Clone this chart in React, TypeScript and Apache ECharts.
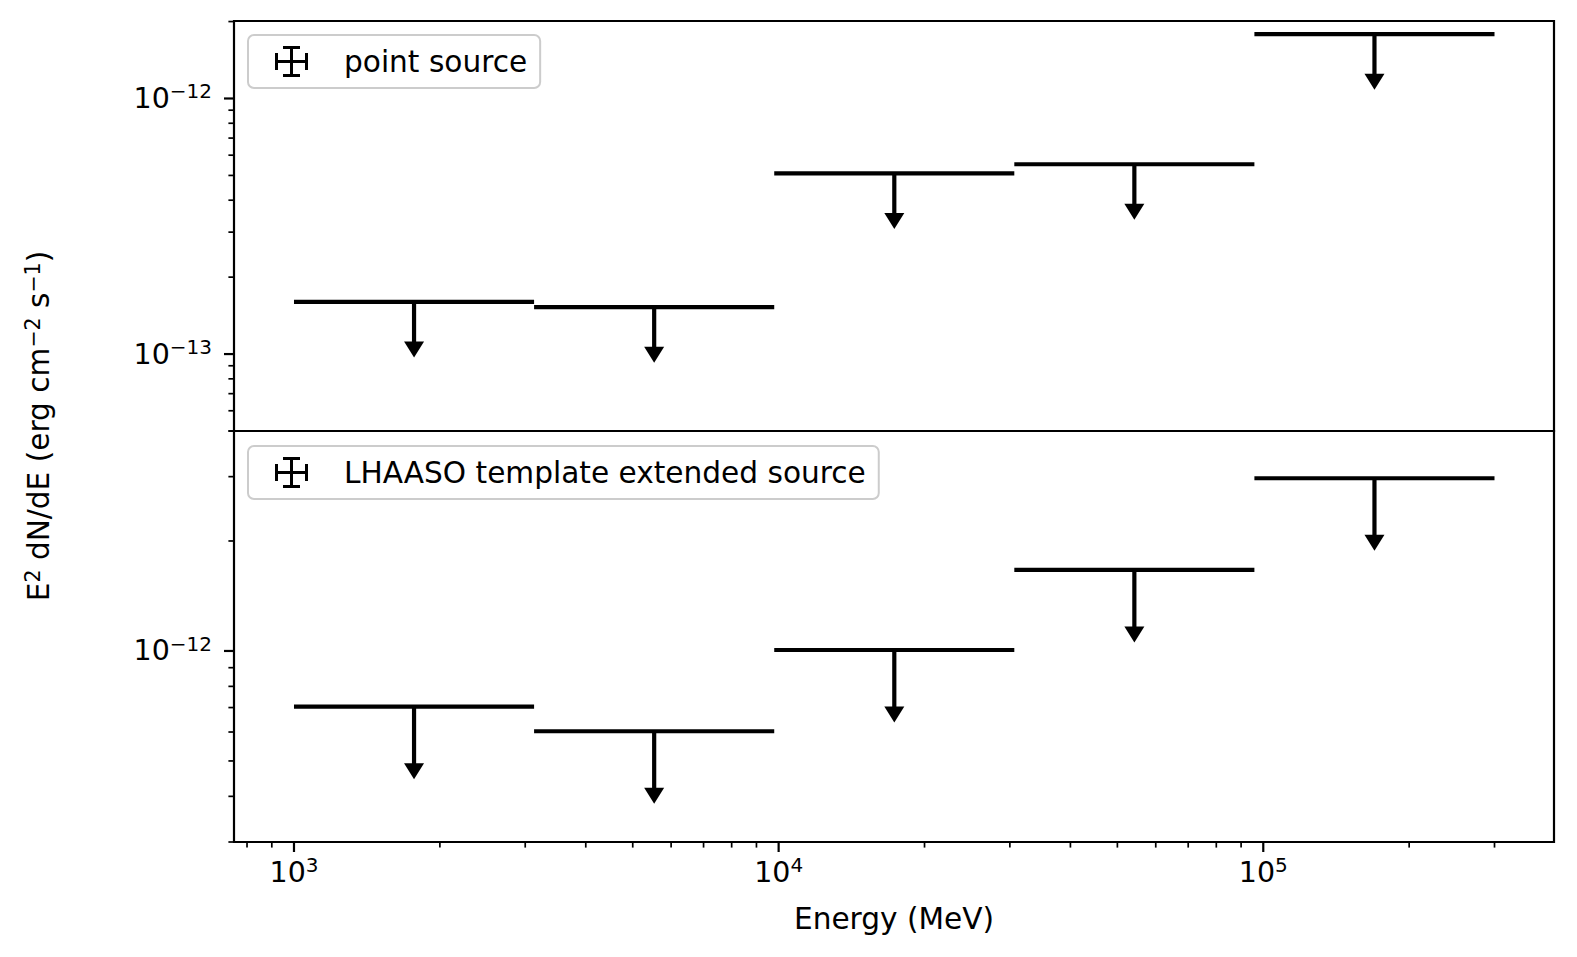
import React, { useEffect, useRef } from "react";
import * as echarts from "echarts";

// ---- data ----
const E_EDGES = [1000, 3129, 9793, 30640, 95870, 300000]; // MeV bin edges
const E_CENTERS = [1769, 5536, 17325, 54200, 169600]; // MeV bin centres
const POINT_UL = [1.6e-13, 1.527e-13, 5.09e-13, 5.53e-13, 1.785e-12];
const EXT_UL = [7.04e-13, 6.03e-13, 1.006e-12, 1.667e-12, 2.97e-12];
const UL_DROP = 0.3; // arrow length as fraction of the limit

const X_RANGE = [752, 3.98e5];
const Y_RANGE_TOP = [5.0e-14, 2.01e-12];
const Y_RANGE_BOTTOM = [3.0e-13, 4.0e-12];

const SERIES_NAMES = ["point source", "LHAASO template extended source"];
const X_TITLE = "Energy (MeV)";

// ---- styling ----
const FONT = "DejaVu Sans";
const FS = 28.5; // tick labels
const FT = 29.6; // legend + titles
const SUP = 20;

function logTicks(min: number, max: number) {
  const major: number[] = [];
  const minor: number[] = [];
  for (let e = Math.floor(Math.log10(min)); e <= Math.ceil(Math.log10(max)); e++) {
    for (let k = 1; k <= 9; k++) {
      const v = k * Math.pow(10, e);
      if (v >= min * 0.999 && v <= max * 1.001) (k === 1 ? major : minor).push(v);
    }
  }
  return { major, minor };
}

function isPow10(v: number) {
  const e = Math.log10(v);
  return Math.abs(e - Math.round(e)) < 1e-6;
}

function powLabel(v: number) {
  if (!isPow10(v)) return "";
  const e = Math.round(Math.log10(v));
  const s = e < 0 ? "\u2212" + Math.abs(e) : String(e);
  return "{b|10}{s|" + s + "}";
}

const richTick = {
  b: { fontSize: FS, fontFamily: FONT, color: "#000", lineHeight: 34 },
  s: { fontSize: SUP, fontFamily: FONT, color: "#000", lineHeight: 22, verticalAlign: "top" },
};

const ulRender = (params: any, api: any) => {
  const c = api.value(0);
  const v = api.value(1);
  const lo = api.value(2);
  const hi = api.value(3);
  const pL = api.coord([lo, v]);
  const pR = api.coord([hi, v]);
  const pT = api.coord([c, v]);
  const pB = api.coord([c, v * (1 - UL_DROP)]);
  return {
    type: "group",
    children: [
      { type: "line", shape: { x1: pL[0], y1: pL[1], x2: pR[0], y2: pR[1] }, style: { stroke: "#000", lineWidth: 4.2 } },
      { type: "line", shape: { x1: pT[0], y1: pT[1], x2: pB[0], y2: pB[1] + 2 }, style: { stroke: "#000", lineWidth: 4.2 } },
      {
        type: "polygon",
        shape: { points: [[pB[0] - 10, pB[1]], [pB[0] + 10, pB[1]], [pB[0], pB[1] + 16]] },
        style: { fill: "#000" },
      },
    ],
  };
};

const tickRender = (params: any, api: any) => {
  const cs = params.coordSys;
  const kind = api.value(2);
  const p = api.coord([api.value(0), api.value(1)]);
  if (kind < 2) {
    const y0 = cs.y + cs.height;
    const len = kind === 0 ? 10 : 5.6;
    return {
      type: "line",
      shape: { x1: p[0], y1: y0, x2: p[0], y2: y0 + len },
      style: { stroke: "#000", lineWidth: kind === 0 ? 2.2 : 1.7 },
    };
  }
  const x0 = cs.x;
  const len = kind === 2 ? 10 : 5.6;
  return {
    type: "line",
    shape: { x1: x0, y1: p[1], x2: x0 - len, y2: p[1] },
    style: { stroke: "#000", lineWidth: kind === 2 ? 2.2 : 1.7 },
  };
};

function yTickData(yr: number[]) {
  const t = logTicks(yr[0], yr[1]);
  return [
    ...t.major.map((v) => [X_RANGE[0], v, 2]),
    ...t.minor.map((v) => [X_RANGE[0], v, 3]),
  ];
}

function xTickData(yr: number[]) {
  const t = logTicks(X_RANGE[0], X_RANGE[1]);
  return [
    ...t.major.map((v) => [v, yr[0], 0]),
    ...t.minor.map((v) => [v, yr[0], 1]),
  ];
}

const legendIcon =
  "path://M0 7h3v17h-3zM30 7h3v17h-3zM0 14h33v3h-33zM15 0h3v31h-3zM8 0h17v3h-17zM8 28h17v3h-17z";

const legendCommon = {
  orient: "horizontal",
  icon: legendIcon,
  itemWidth: 33,
  itemHeight: 31,
  padding: [11, 13, 11, 27],
  backgroundColor: "rgba(255,255,255,0.8)",
  borderColor: "#cccccc",
  borderWidth: 2,
  borderRadius: 6,
  selectedMode: false,
  itemStyle: { borderWidth: 0, color: "#000" },
  textStyle: { fontSize: FT, fontFamily: FONT, color: "#000", lineHeight: 31, padding: [0, 0, 0, 31] },
};

function yAxisCfg(gridIndex: number, yr: number[]) {
  return {
    type: "log",
    gridIndex,
    min: yr[0],
    max: yr[1],
    axisLine: { show: false },
    axisTick: { show: false },
    splitLine: { show: false },
    minorTick: { show: false },
    axisLabel: {
      show: true,
      margin: 22,
      showMinLabel: false,
      showMaxLabel: false,
      formatter: (v: number) => powLabel(v),
      rich: richTick,
    },
  };
}

const gridCommon = {
  show: true,
  borderColor: "#000",
  borderWidth: 2.2,
  backgroundColor: "transparent",
  containLabel: false,
  outerBoundsMode: "none",
};

const option: any = {
  animation: false,
  backgroundColor: "#fff",
  grid: [
    { ...gridCommon, left: 234, top: 21, width: 1320, height: 410 },
    { ...gridCommon, left: 234, top: 431, width: 1320, height: 411 },
  ],
  xAxis: [
    { type: "log", gridIndex: 0, min: X_RANGE[0], max: X_RANGE[1], show: false },
    {
      type: "log",
      gridIndex: 1,
      min: X_RANGE[0],
      max: X_RANGE[1],
      axisLine: { show: false },
      axisTick: { show: false },
      splitLine: { show: false },
      minorTick: { show: false },
      axisLabel: {
        show: true,
        margin: 13,
        showMinLabel: false,
        showMaxLabel: false,
        formatter: (v: number) => powLabel(v),
        rich: richTick,
      },
    },
  ],
  yAxis: [yAxisCfg(0, Y_RANGE_TOP), yAxisCfg(1, Y_RANGE_BOTTOM)],
  legend: [
    { ...legendCommon, data: [SERIES_NAMES[0]], left: 248, top: 35 },
    { ...legendCommon, data: [SERIES_NAMES[1]], left: 248, top: 446 },
  ],
  graphic: [
    {
      type: "text",
      x: 39,
      y: 426,
      rotation: Math.PI / 2,
      style: {
        text: "{b|E}{s|2}{b| dN/dE (erg cm}{s|\u22122}{b| s}{s|\u22121}{b|)}",
        rich: {
          b: { fontSize: FT, fontFamily: FONT, fill: "#000", lineHeight: 34 },
          s: { fontSize: SUP + 0.5, fontFamily: FONT, fill: "#000", lineHeight: 22, verticalAlign: "top" },
        },
        align: "center",
        verticalAlign: "middle",
      },
    },
    {
      type: "text",
      x: 894,
      y: 919,
      style: {
        text: X_TITLE,
        fontSize: FT,
        fontFamily: FONT,
        fill: "#000",
        align: "center",
        verticalAlign: "middle",
      },
    },
  ],
  series: [
    {
      type: "custom",
      name: SERIES_NAMES[0],
      xAxisIndex: 0,
      yAxisIndex: 0,
      itemStyle: { color: "#000" },
      encode: { x: 0, y: 1 },
      renderItem: ulRender,
      data: E_CENTERS.map((c, i) => [c, POINT_UL[i], E_EDGES[i], E_EDGES[i + 1]]),
      silent: true,
    },
    {
      type: "custom",
      name: SERIES_NAMES[1],
      xAxisIndex: 1,
      yAxisIndex: 1,
      itemStyle: { color: "#000" },
      encode: { x: 0, y: 1 },
      renderItem: ulRender,
      data: E_CENTERS.map((c, i) => [c, EXT_UL[i], E_EDGES[i], E_EDGES[i + 1]]),
      silent: true,
    },
    {
      type: "custom",
      name: "ticks-top",
      xAxisIndex: 0,
      yAxisIndex: 0,
      encode: { x: 0, y: 1 },
      renderItem: tickRender,
      data: yTickData(Y_RANGE_TOP),
      silent: true,
    },
    {
      type: "custom",
      name: "ticks-bottom",
      xAxisIndex: 1,
      yAxisIndex: 1,
      encode: { x: 0, y: 1 },
      renderItem: tickRender,
      data: [...yTickData(Y_RANGE_BOTTOM), ...xTickData(Y_RANGE_BOTTOM)],
      silent: true,
    },
  ],
};

export default function App() {
  const ref = useRef<HTMLDivElement>(null);
  useEffect(() => {
    const chart = echarts.init(ref.current!, null, { renderer: "svg" });
    chart.setOption(option);
    return () => chart.dispose();
  }, []);
  return (
    <div
      ref={ref}
      style={{ position: "absolute", left: 0, top: 0, width: 1577, height: 957, background: "#fff" }}
    />
  );
}
